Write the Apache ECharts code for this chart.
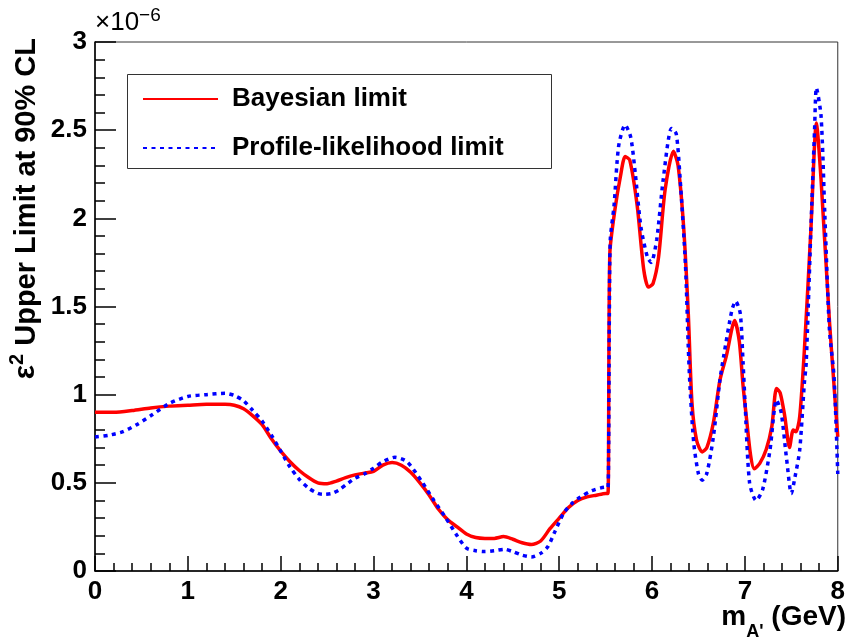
<!DOCTYPE html>
<html>
<head>
<meta charset="utf-8">
<script src="https://cdn.jsdelivr.net/npm/echarts@6/dist/echarts.min.js"></script>
<style>
  html, body { margin: 0; padding: 0; background: #fff; }
  #chart { width: 848px; height: 637px; }
</style>
</head>
<body>
<div id="chart"></div>
<script>
// Dark photon mass (GeV) and epsilon^2 upper limits at 90% CL, in units of 1e-6
const bayesMass = [0, 0.2, 0.4, 0.6, 0.8, 1.0, 1.2, 1.4, 1.5, 1.6, 1.7, 1.8, 1.9, 2.0, 2.1, 2.2, 2.3, 2.4, 2.5, 2.6,
  2.7, 2.8, 2.9, 3.0, 3.1, 3.2, 3.3, 3.4, 3.5, 3.6, 3.7, 3.8, 3.9, 4.0, 4.1, 4.2, 4.3, 4.4, 4.5, 4.6,
  4.7, 4.8, 4.9, 5.0, 5.1, 5.2, 5.3, 5.4, 5.5, 5.525, 5.545, 5.6, 5.66, 5.71, 5.76, 5.84, 5.91, 5.96, 6.01, 6.07,
  6.14, 6.23, 6.28, 6.34, 6.39, 6.43, 6.48, 6.54, 6.59, 6.66, 6.73, 6.80, 6.89, 6.94, 6.98, 7.02, 7.06, 7.1, 7.16, 7.23,
  7.29, 7.34, 7.38, 7.43, 7.48, 7.52, 7.55, 7.59, 7.64, 7.71, 7.77, 7.82, 7.91, 7.96, 8.0];
const bayesLimit = [0.90, 0.90, 0.91, 0.925, 0.935, 0.94, 0.945, 0.945, 0.94, 0.92, 0.88, 0.83, 0.75, 0.68, 0.62, 0.57, 0.53, 0.50, 0.495, 0.51,
  0.53, 0.545, 0.555, 0.565, 0.60, 0.615, 0.60, 0.56, 0.50, 0.43, 0.35, 0.29, 0.25, 0.21, 0.19, 0.185, 0.185, 0.195, 0.18, 0.16,
  0.15, 0.17, 0.24, 0.30, 0.36, 0.40, 0.42, 0.43, 0.44, 0.44, 1.80, 2.05, 2.24, 2.35, 2.33, 2.07, 1.71, 1.61, 1.63, 1.78,
  2.16, 2.38, 2.30, 1.95, 1.46, 0.95, 0.74, 0.675, 0.70, 0.84, 1.08, 1.22, 1.42, 1.30, 1.05, 0.85, 0.66, 0.58, 0.61, 0.69,
  0.82, 1.035, 1.01, 0.875, 0.70, 0.80, 0.79, 0.875, 1.25, 1.93, 2.54, 2.22, 1.42, 1.05, 0.76];

const profileMass = [0, 0.15, 0.3, 0.45, 0.6, 0.8, 1.0, 1.2, 1.4, 1.5, 1.6, 1.7, 1.8, 1.9, 2.0, 2.1, 2.2, 2.3, 2.4, 2.46,
  2.55, 2.63, 2.73, 2.8, 2.9, 3.0, 3.1, 3.23, 3.36, 3.52, 3.65, 3.77, 3.9, 4.0, 4.1, 4.2, 4.3, 4.41, 4.5, 4.6,
  4.7, 4.8, 4.88, 4.95, 5.05, 5.15, 5.23, 5.35, 5.50, 5.525, 5.54, 5.55, 5.59, 5.64, 5.71, 5.77, 5.82, 5.88, 5.95, 5.99,
  6.05, 6.12, 6.21, 6.26, 6.30, 6.36, 6.39, 6.41, 6.45, 6.50, 6.54, 6.59, 6.66, 6.73, 6.77, 6.86, 6.90, 6.95, 6.98, 7.0,
  7.05, 7.12, 7.19, 7.27, 7.34, 7.39, 7.45, 7.5, 7.54, 7.59, 7.64, 7.66, 7.71, 7.75, 7.77, 7.82, 7.86, 7.91, 7.96, 8.0];
const profileLimit = [0.76, 0.77, 0.79, 0.83, 0.88, 0.95, 0.99, 1.0, 1.008, 0.995, 0.965, 0.91, 0.85, 0.77, 0.68, 0.59, 0.52, 0.47, 0.44, 0.435,
  0.44, 0.46, 0.50, 0.526, 0.55, 0.583, 0.62, 0.645, 0.62, 0.507, 0.40, 0.308, 0.20, 0.13, 0.115, 0.11, 0.115, 0.123, 0.11, 0.09,
  0.08, 0.10, 0.14, 0.22, 0.33, 0.39, 0.42, 0.455, 0.475, 0.475, 1.46, 1.88, 2.07, 2.41, 2.53, 2.46, 2.25, 1.95, 1.78, 1.75,
  1.88, 2.22, 2.51, 2.48, 2.24, 1.73, 1.27, 1.03, 0.72, 0.55, 0.515, 0.554, 0.76, 1.08, 1.215, 1.48, 1.53, 1.46, 1.18, 0.97,
  0.50, 0.40, 0.46, 0.686, 0.97, 0.90, 0.63, 0.44, 0.535, 0.686, 1.065, 1.18, 1.93, 2.50, 2.74, 2.58, 2.03, 1.37, 1.10, 0.55];

const seriesNames = ['Bayesian limit', 'Profile-likelihood limit'];
const xTicks = [0, 1, 2, 3, 4, 5, 6, 7, 8];
const yTicks = [0, 0.5, 1, 1.5, 2, 2.5, 3];

const FONT = '"Liberation Sans", Arial, sans-serif';

function pairs(xs, ys) {
  return xs.map((x, i) => [x, ys[i]]);
}

const chart = echarts.init(document.getElementById('chart'), null, { renderer: 'canvas' });

const option = {
  backgroundColor: '#ffffff',
  animation: false,
  grid: {
    left: 95, right: 4, top: 42, bottom: 66,
    show: true, borderColor: '#333', borderWidth: 1, backgroundColor: 'transparent'
  },
  xAxis: {
    type: 'value',
    min: xTicks[0], max: xTicks[xTicks.length - 1], interval: 1,
    axisLine: { show: true, onZero: false, lineStyle: { color: '#000', width: 1.5 } },
    axisTick: { show: true, inside: true, length: 15, lineStyle: { color: '#000', width: 1.5 } },
    minorTick: { show: true, splitNumber: 5, length: 8, lineStyle: { color: '#000', width: 1.5 } },
    splitLine: { show: false },
    axisLabel: { margin: 8, fontFamily: FONT, fontWeight: 'bold', fontSize: 26, color: '#000' }
  },
  yAxis: {
    type: 'value',
    min: yTicks[0], max: yTicks[yTicks.length - 1], interval: 0.5,
    axisLine: { show: true, onZero: false, lineStyle: { color: '#000', width: 1.5 } },
    axisTick: { show: true, inside: true, length: 21, lineStyle: { color: '#000', width: 1.5 } },
    minorTick: { show: true, splitNumber: 5, length: 10, lineStyle: { color: '#000', width: 1.5 } },
    splitLine: { show: false },
    axisLabel: { margin: 8, fontFamily: FONT, fontWeight: 'bold', fontSize: 26, color: '#000' }
  },
  legend: {
    orient: 'vertical',
    left: 142, top: 86,
    padding: 0,
    itemWidth: 75, itemHeight: 24, itemGap: 23,
    itemStyle: { opacity: 0 },
    textStyle: { fontFamily: FONT, fontWeight: 'bold', fontSize: 26, color: '#000', padding: [0, 0, 0, 9], lineHeight: 24 },
    data: seriesNames
  },
  graphic: [
    {
      type: 'rect', z: 90,
      shape: { x: 127.5, y: 74.5, width: 424, height: 94 },
      style: { fill: 'transparent', stroke: '#333', lineWidth: 1 }
    },
    {
      type: 'text', z: 100,
      x: 24, y: 38, rotation: Math.PI / 2,
      style: {
        text: '{e|ε}{s|2}{t| Upper Limit at 90% CL}',
        align: 'right', verticalAlign: 'middle',
        rich: {
          e: { fontFamily: FONT, fontWeight: 'bold', fontSize: 30, fill: '#000', lineHeight: 34, verticalAlign: 'bottom' },
          s: { fontFamily: FONT, fontWeight: 'bold', fontSize: 20, fill: '#000', lineHeight: 34, verticalAlign: 'top' },
          t: { fontFamily: FONT, fontWeight: 'bold', fontSize: 29, fill: '#000', lineHeight: 34, verticalAlign: 'bottom' }
        }
      }
    },
    {
      type: 'text', z: 100,
      x: 95, y: 36,
      style: {
        text: '{b|×10}{e|−6}',
        align: 'left', verticalAlign: 'bottom',
        rich: {
          b: { fontFamily: FONT, fontSize: 26, fill: '#000', lineHeight: 30, verticalAlign: 'bottom' },
          e: { fontFamily: FONT, fontSize: 19, fill: '#000', lineHeight: 30, verticalAlign: 'top' }
        }
      }
    },
    {
      type: 'text', z: 100,
      x: 846, y: 641,
      style: {
        text: '{m|m}{s|A\'}{g| (GeV)}',
        align: 'right', verticalAlign: 'bottom',
        rich: {
          m: { fontFamily: FONT, fontWeight: 'bold', fontSize: 28, fill: '#000', lineHeight: 40, verticalAlign: 'top', padding: [2, 0, 0, 0] },
          s: { fontFamily: FONT, fontWeight: 'bold', fontSize: 18, fill: '#000', lineHeight: 40, verticalAlign: 'bottom' },
          g: { fontFamily: FONT, fontWeight: 'bold', fontSize: 28, fill: '#000', lineHeight: 40, verticalAlign: 'top', padding: [2, 0, 0, 0] }
        }
      }
    }
  ],
  series: [
    {
      name: seriesNames[0],
      type: 'line',
      data: pairs(bayesMass, bayesLimit),
      symbol: 'none',
      smooth: 0.25,
      clip: true,
      lineStyle: { color: '#ff0000', width: 3.5 },
      itemStyle: { color: '#ff0000' },
      z: 3
    },
    {
      name: seriesNames[1],
      type: 'line',
      data: pairs(profileMass, profileLimit),
      symbol: 'none',
      smooth: 0.25,
      clip: true,
      lineStyle: { color: '#0000ff', width: 3.5, type: [4, 4.5] },
      itemStyle: { color: '#0000ff' },
      z: 4
    }
  ]
};

chart.setOption(option);
</script>
</body>
</html>
